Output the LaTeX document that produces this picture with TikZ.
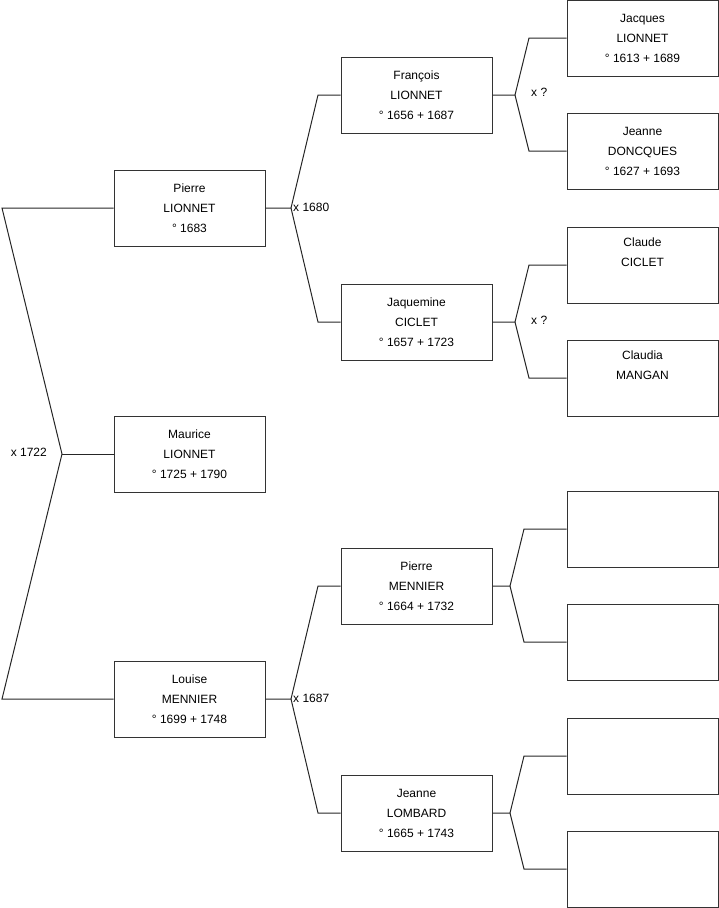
\documentclass[tikz,border=0pt]{standalone}
\usepackage{fontspec}
\setmainfont{Liberation Sans}
\begin{document}
\begin{tikzpicture}[x=1pt,y=-1pt,
 person/.style={draw=black!80, line width=1pt, minimum width=151pt, minimum height=76pt, inner sep=0pt, align=center, font=\fontsize{12}{20}\selectfont},
 link/.style={draw=black!85, line width=1pt},
 lab/.style={font=\fontsize{12}{14}\selectfont, inner sep=0pt}]
\useasboundingbox (0,0) rectangle (719,908);
% column 1
\node[person] (pierre) at (189.5,208) {Pierre\\LIONNET\\° 1683};
\node[person] (maurice) at (189.5,454) {Maurice\\LIONNET\\° 1725 + 1790};
\node[person] (louise) at (189.5,699) {Louise\\MENNIER\\° 1699 + 1748};
% column 2
\node[person] (francois) at (416.5,95) {François\\LIONNET\\° 1656 + 1687};
\node[person] (jaquemine) at (416.5,322) {Jaquemine\\CICLET\\° 1657 + 1723};
\node[person] (pierrem) at (416.5,586) {Pierre\\MENNIER\\° 1664 + 1732};
\node[person] (jeannel) at (416.5,813) {Jeanne\\LOMBARD\\° 1665 + 1743};
% column 3
\node[person] (jacques) at (642.5,38) {Jacques\\LIONNET\\° 1613 + 1689};
\node[person] (jeanned) at (642.5,151) {Jeanne\\DONCQUES\\° 1627 + 1693};
\node[person] (claude) at (642.5,265) {Claude\\CICLET\\\strut};
\node[person] (claudia) at (642.5,378) {Claudia\\MANGAN\\\strut};
\node[person] (e1) at (642.5,529) {};
\node[person] (e2) at (642.5,642) {};
\node[person] (e3) at (642.5,756) {};
\node[person] (e4) at (642.5,869) {};
% level 1 connectors
\coordinate (a1) at (2,208);
\coordinate (a2) at (62,454);
\coordinate (a3) at (2,699);
\draw[link] (pierre.west) -- (a1) -- (a2) -- (a3) -- (louise.west);
\draw[link] (a2) -- (maurice.west);
\node[lab, anchor=east] (m1) at (47,452) {x 1722};
% level 2
\coordinate (b1) at (291,208);
\coordinate (b2) at (318,95);
\coordinate (b3) at (318,322);
\draw[link] (pierre.east) -- (b1) -- (b2) -- (francois.west);
\draw[link] (b1) -- (b3) -- (jaquemine.west);
\node[lab, anchor=west] (m2) at (293,207) {x 1680};
\coordinate (c1) at (291,699);
\coordinate (c2) at (318,586);
\coordinate (c3) at (318,813);
\draw[link] (louise.east) -- (c1) -- (c2) -- (pierrem.west);
\draw[link] (c1) -- (c3) -- (jeannel.west);
\node[lab, anchor=west] (m3) at (293,698) {x 1687};
% level 3
\coordinate (d1) at (515,95);
\coordinate (d2) at (529,38);
\coordinate (d3) at (529,151);
\draw[link] (francois.east) -- (d1) -- (d2) -- (jacques.west);
\draw[link] (d1) -- (d3) -- (jeanned.west);
\node[lab, anchor=west] (m4) at (531,92) {x ?};
\coordinate (f1) at (515,322);
\coordinate (f2) at (529,265);
\coordinate (f3) at (529,378);
\draw[link] (jaquemine.east) -- (f1) -- (f2) -- (claude.west);
\draw[link] (f1) -- (f3) -- (claudia.west);
\node[lab, anchor=west] (m5) at (531,320) {x ?};
\coordinate (g1) at (510,586);
\coordinate (g2) at (524,529);
\coordinate (g3) at (524,642);
\draw[link] (pierrem.east) -- (g1) -- (g2) -- (e1.west);
\draw[link] (g1) -- (g3) -- (e2.west);
\coordinate (h1) at (510,813);
\coordinate (h2) at (524,756);
\coordinate (h3) at (524,869);
\draw[link] (jeannel.east) -- (h1) -- (h2) -- (e3.west);
\draw[link] (h1) -- (h3) -- (e4.west);
\end{tikzpicture}
\end{document}
